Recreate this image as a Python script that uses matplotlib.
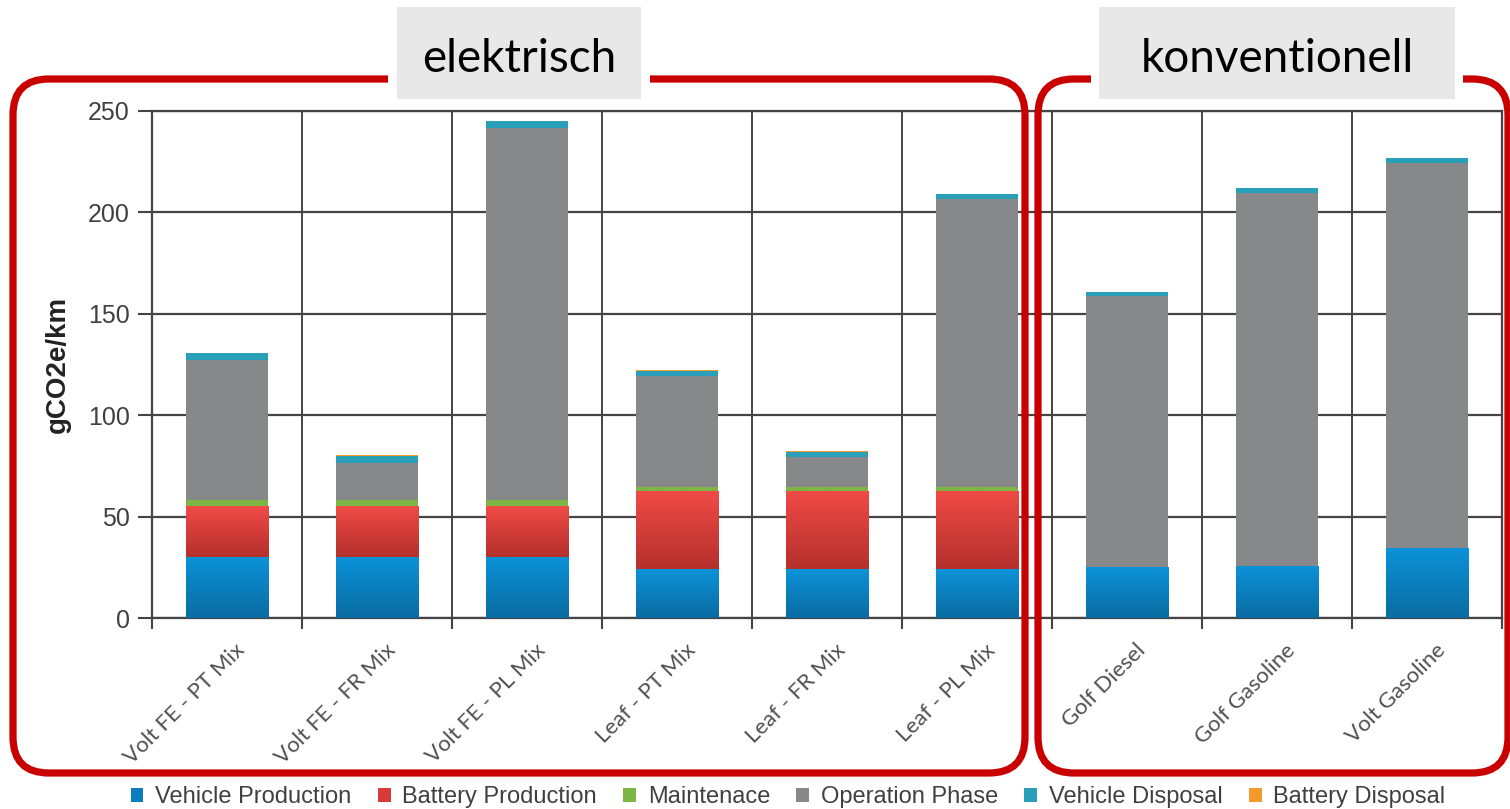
import matplotlib as mpl
mpl.use("Agg")
import matplotlib.pyplot as plt
import numpy as np
from matplotlib.colors import LinearSegmentedColormap
from matplotlib.patches import FancyBboxPatch, Rectangle, Patch
from matplotlib.transforms import IdentityTransform, blended_transform_factory, offset_copy


categories = [
    "Volt FE - PT Mix", "Volt FE - FR Mix", "Volt FE - PL Mix",
    "Leaf - PT Mix", "Leaf - FR Mix", "Leaf - PL Mix",
    "Golf Diesel", "Golf Gasoline", "Volt Gasoline",
]
vehicle_production = [30, 30, 30, 24, 24, 24, 25, 25.5, 34.5]
battery_production = [25, 25, 25, 38, 38, 38, 0, 0, 0]
maintenance = [3, 3, 3, 2.5, 2.5, 2.5, 0, 0, 0]
operation_phase = [69, 18.5, 183.7, 55, 15, 142, 133.8, 184.3, 190]
vehicle_disposal = [3.5, 3.5, 3.3, 2.5, 2.5, 2.5, 2, 2, 2.2]
battery_disposal = [0.3, 0.3, 0.3, 0.3, 0.3, 0.3, 0, 0, 0]

series_names = ["Vehicle Production", "Battery Production", "Maintenace",
                "Operation Phase", "Vehicle Disposal", "Battery Disposal"]
series_values = [vehicle_production, battery_production, maintenance,
                 operation_phase, vehicle_disposal, battery_disposal]
series_colors = ["#0A7DBE", "#D93C38", "#7DB545", "#878889", "#2A9FB8", "#F39A2B"]
# vertical gradients (top, bottom) for the two lower segments
gradients = {0: ("#0C92D8", "#0A6CA2"), 1: ("#F04A46", "#B5302C")}

yticks = [0, 50, 100, 150, 200, 250]
group_labels = ["elektrisch", "konventionell"]

W, H = 1510, 809
fig = plt.figure(figsize=(W / 100, H / 100), dpi=100)
ax = fig.add_axes([152 / W, (H - 618) / H, 1350 / W, 507 / H])

x = np.arange(len(categories))
bar_w = 0.55
bottom = np.zeros(len(categories))
for i, (vals, color) in enumerate(zip(series_values, series_colors)):
    vals = np.asarray(vals, dtype=float)
    ax.bar(x, vals, bar_w, bottom=bottom, color=color, linewidth=0, zorder=3)
    if i in gradients:
        cmap = LinearSegmentedColormap.from_list("g%d" % i, [gradients[i][1], gradients[i][0]])
        grad = np.linspace(0, 1, 64).reshape(-1, 1)
        for xi, b, v in zip(x, bottom, vals):
            if v <= 0:
                continue
            ax.imshow(grad, extent=[xi - bar_w / 2, xi + bar_w / 2, b, b + v],
                      origin="lower", aspect="auto", cmap=cmap, zorder=3.5,
                      interpolation="bilinear")
    bottom += vals

ax.set_xlim(-0.5, len(categories) - 0.5)
ax.set_ylim(0, 250)

grid_c = "#444444"
ax.set_yticks(yticks)
ax.set_yticklabels([str(t) for t in yticks], fontsize=18, color="#404040",
                   family="Liberation Sans")
ax.tick_params(axis="y", length=10, width=1.5, color=grid_c, pad=6)
ax.yaxis.grid(True, color=grid_c, linewidth=1.6, zorder=0)

ax.set_xticks(np.arange(len(categories) + 1) - 0.5)
ax.set_xticklabels([])
ax.tick_params(axis="x", length=8, width=1.5, color=grid_c)
ax.xaxis.grid(True, color=grid_c, linewidth=1.4, zorder=0)
ax.set_axisbelow(True)
for s in ax.spines.values():
    s.set_color(grid_c)
    s.set_linewidth(1.6)

trans = blended_transform_factory(ax.transData, ax.transAxes)
trans = offset_copy(trans, fig=fig, x=8, y=-22, units="dots")
for xi, lab in zip(x, categories):
    ax.text(xi, 0, lab, transform=trans, rotation=45, rotation_mode="anchor",
            ha="right", va="top", fontsize=16, color="#505050", family="Lato")

ax.set_ylabel("gCO2e/km", fontsize=20, fontweight="bold", color="#222222",
              family="Liberation Sans", labelpad=12)

# red rounded group frames, in pixel coordinates
ident = IdentityTransform()
red = "#C80000"
frames = [(13, 1025), (1038, 1508)]
for x0, x1 in frames:
    fr = FancyBboxPatch((x0, H - 773), x1 - x0, 773 - 79,
                        boxstyle="round,pad=0,rounding_size=36",
                        transform=ident, facecolor="none", edgecolor=red,
                        linewidth=5.2, zorder=10)
    fig.add_artist(fr)

label_boxes = [(397, 641, 388, 650), (1099, 1455, 1091, 1463)]
for (bx0, bx1, gx0, gx1), lab in zip(label_boxes, group_labels):
    fig.add_artist(Rectangle((gx0, H - 100), gx1 - gx0, 100, transform=ident,
                             facecolor="white", edgecolor="none", zorder=11))
    fig.add_artist(Rectangle((bx0, H - 99), bx1 - bx0, 92, transform=ident,
                             facecolor="#E8E8E8", edgecolor="none", zorder=12))
    fig.text((bx0 + bx1) / 2 / W, (H - 72) / H, lab, ha="center", va="baseline",
             fontsize=33, family="Lato", color="#000000", zorder=13)

handles = [Patch(facecolor=c, edgecolor="none") for c in series_colors]
fig.legend(handles, series_names, loc="center", bbox_to_anchor=(788 / W, 1 - 797 / H),
           ncol=6, frameon=False, handlelength=0.55, handleheight=0.55,
           handletextpad=0.5, columnspacing=1.1,
           prop={"family": "Liberation Sans", "size": 17}, labelcolor="#404040")

fig.savefig("out.png", dpi=100)
